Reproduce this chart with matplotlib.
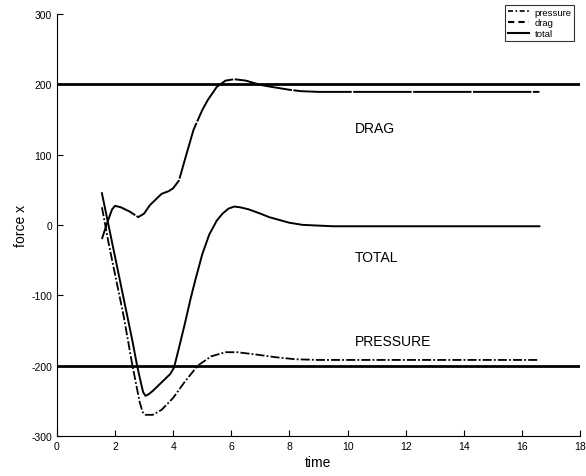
import numpy as np
import matplotlib.pyplot as plt
from matplotlib.lines import Line2D

plt.rcParams['font.family'] = ['Liberation Sans', 'DejaVu Sans']
plt.rcParams['axes.unicode_minus'] = False

# valores
t_drag = [1.55, 1.75, 1.9, 2.0, 2.2, 2.5, 2.8, 3.0, 3.2, 3.6, 3.85, 4.0, 4.2, 4.4, 4.7, 5.0,
          5.2, 5.5, 5.8, 6.1, 6.5, 7.0, 7.4, 8.0, 8.4, 9.0, 10.0, 12.0, 14.0, 16.6]
drag = [-20, 5, 22, 27, 25, 19, 11, 16, 28, 44, 48, 52, 63, 92, 135, 163,
        178, 196, 205, 207, 205, 199, 196, 192, 190, 189, 189, 189, 189, 189]

t_total = [1.55, 1.7, 1.85, 2.0, 2.3, 2.6, 2.76, 2.9, 2.97, 3.05, 3.15, 3.3, 3.6, 3.9, 4.03,
           4.2, 4.4, 4.6, 4.76, 5.0, 5.24, 5.5, 5.7, 5.9, 6.1, 6.3, 6.6, 7.0, 7.3, 8.0,
           8.45, 9.5, 12.0, 16.6]
total = [45, 15, -15, -45, -105, -165, -200, -226, -238, -243, -241, -236, -224, -212, -203,
         -175, -141, -105, -79, -42, -14, 6, 16, 23, 26, 25, 22, 16, 11, 3,
         0, -2, -2, -2]

t_press = [1.55, 1.8, 2.0, 2.3, 2.6, 2.85, 2.95, 3.05, 3.3, 3.6, 4.0, 4.4, 4.85, 5.3, 5.8,
           6.2, 6.8, 7.5, 8.2, 9.0, 12.0, 16.6]
press = [25, -30, -70, -130, -200, -252, -266, -270, -270, -263, -246, -223, -200, -187, -181,
         -181, -184, -188, -191, -192, -192, -192]

t_ref = [0, 18]
ref_hi = [200, 200]
ref_lo = [-200, -200]

etiquetas = ['DRAG', 'TOTAL', 'PRESSURE']
pos_etiq = [(10.25, 137), (10.25, -45), (10.25, -165)]

fig = plt.figure(figsize=(5.86, 4.77), dpi=100)
ax = fig.add_axes([0.097, 0.084, 0.893, 0.885])

ax.plot(t_ref, ref_hi, color='black', lw=2.0)
ax.plot(t_ref, ref_lo, color='black', lw=2.0)
ax.plot(t_drag, drag, color='black', lw=1.4, linestyle=(0, (30, 0.8)))
ax.plot(t_total, total, color='black', lw=1.4)
ax.plot(t_press, press, color='black', lw=1.3, linestyle=(0, (5, 1.2, 1, 1.2)))

for txt, (x, y) in zip(etiquetas, pos_etiq):
    ax.text(x, y, txt, fontsize=10, ha='left', va='center')

ax.set_xlim(0, 18)
ax.set_ylim(-300, 300)
ax.set_xticks(np.arange(0, 19, 2))
ax.set_yticks(np.arange(-300, 301, 100))
ax.tick_params(direction='in', length=4, labelsize=7.5, width=0.8)
for s in ['top', 'right']:
    ax.spines[s].set_visible(False)
ax.set_xlabel('time', fontsize=10, labelpad=3)
ax.set_ylabel('force x', fontsize=10, labelpad=2)

handles = [Line2D([], [], color='black', lw=1.2, linestyle=(0, (3, 1.5, 1, 1.5))),
           Line2D([], [], color='black', lw=1.5, linestyle=(0, (3, 2))),
           Line2D([], [], color='black', lw=1.5)]
leg = fig.legend(handles, ['pressure', 'drag', 'total'], loc='upper right',
                 bbox_to_anchor=(0.988, 0.998), fontsize=6.8, handlelength=2.2,
                 frameon=True, fancybox=False, edgecolor='black', borderpad=0.3,
                 labelspacing=0.2, handletextpad=0.6)
leg.get_frame().set_linewidth(0.8)

plt.savefig('out.png', dpi=100)
